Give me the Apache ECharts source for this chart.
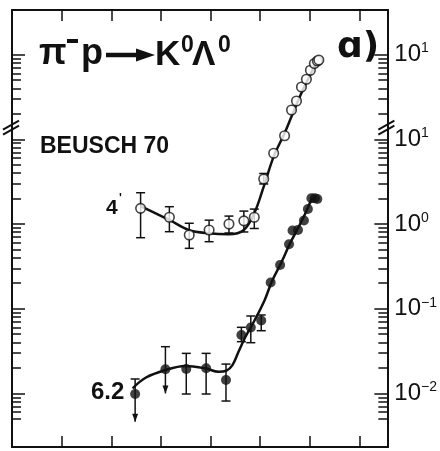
<!DOCTYPE html>
<html>
<head>
<meta charset="utf-8">
<script src="https://cdn.jsdelivr.net/npm/echarts@6/dist/echarts.min.js"></script>
<style>
  html, body { margin: 0; padding: 0; background: #fff; }
  #chart { width: 440px; height: 451px; }
</style>
</head>
<body>
<div id="chart"></div>
<script>
// 4 GeV (open circles), values read on the upper scale
const x4 = [2.59, 3.17, 3.57, 3.97, 4.37, 4.67, 4.88, 5.07, 5.27, 5.49, 5.63, 5.73, 5.83, 5.93, 6.01, 6.09, 6.15, 6.18];
const y4 = [0.153, 0.120, 0.0742, 0.085, 0.100, 0.109, 0.120, 0.340, 0.684, 1.10, 2.22, 2.83, 4.14, 5.11, 6.53, 7.85, 8.40, 8.63];
const err4Lo = [0.0689, 0.0811, 0.0516, 0.0618, 0.0783, 0.0805, 0.0885, 0.297];
const err4Hi = [0.234, 0.160, 0.102, 0.111, 0.124, 0.142, 0.150, 0.395];
const fitX4 = [2.59, 3.17, 3.56, 3.96, 4.37, 4.67, 4.88, 5.07, 5.27, 5.49, 5.63, 5.83, 6.03, 6.16];
const fitY4 = [0.163, 0.1115, 0.085, 0.0776, 0.0755, 0.085, 0.134, 0.276, 0.624, 1.18, 1.86, 3.52, 6.15, 8.4];

// 6.2 GeV (filled circles)
const x62 = [2.48, 3.09, 3.51, 3.91, 4.31, 4.62, 4.81, 5.02, 5.21, 5.40, 5.58, 5.65, 5.76, 5.88, 5.96, 6.03, 6.10, 6.15];
const y62 = [0.00984, 0.0193, 0.0194, 0.0198, 0.0144, 0.0489, 0.060, 0.0726, 0.204, 0.328, 0.576, 0.838, 0.849, 1.10, 1.50, 2.01, 2.01, 1.97];
const err62Lo = [0.00463, 0.0100, 0.00984, 0.00984, 0.00813, 0.0408, 0.0397, 0.055];
const err62Hi = [0.0148, 0.0356, 0.0297, 0.0297, 0.0222, 0.0603, 0.082, 0.0843];
const arrow62 = [1, 1, 0, 0, 0, 0, 0, 0];
const fitX62 = [2.43, 2.69, 3.09, 3.49, 3.89, 4.16, 4.32, 4.44, 4.56, 4.70, 4.89, 5.09, 5.23, 5.43, 5.59, 5.76, 5.91, 6.04];
const fitY62 = [0.0115, 0.0153, 0.0189, 0.0211, 0.0198, 0.0180, 0.0186, 0.0216, 0.0308, 0.0463, 0.0736, 0.127, 0.207, 0.356, 0.575, 0.890, 1.34, 2.01];

// axes
const xTicks = [1, 2, 3, 4, 5, 6, 7];
const powerTicks = [0.01, 0.1, 1, 10, 100];
const mantissas = [2, 3, 4, 5, 6, 7, 8, 9];
const decades = [-3, -2, -1, 0, 1];
const SHIFT_4 = 10;     // 4 GeV curve drawn one decade up
const BREAK_AT = 14.5;  // where the scale switches to the upper labels

const minorTicks = [];
decades.forEach(e => mantissas.forEach(m => {
    const v = +(m + 'e' + e);
    if (v >= 0.005 && v <= 100) minorTicks.push(v);
}));

const ink = '#111';
const sans = 'Liberation Sans, Arial, sans-serif';

const pairs = (xs, ys, k) => xs.map((x, i) => [x, ys[i] * k]);
const errRows = (xs, lo, hi, k, arrows) =>
    lo.map((l, i) => [xs[i], l * k, hi[i] * k, arrows ? arrows[i] : 0]);

function renderErr(params, api) {
    const x = api.value(0);
    const lo = api.coord([x, api.value(1)]);
    const hi = api.coord([x, api.value(2)]);
    const w = 4.5;
    const st = { stroke: ink, lineWidth: 1.5 };
    const kids = [
        { type: 'line', shape: { x1: hi[0], y1: hi[1], x2: lo[0], y2: lo[1] }, style: st },
        { type: 'line', shape: { x1: hi[0] - w, y1: hi[1], x2: hi[0] + w, y2: hi[1] }, style: st }
    ];
    if (api.value(3)) {
        kids.push({ type: 'polygon', shape: { points: [[lo[0] - 3, lo[1] - 8], [lo[0] + 3, lo[1] - 8], [lo[0], lo[1]]] }, style: { fill: ink } });
    } else {
        kids.push({ type: 'line', shape: { x1: lo[0] - w, y1: lo[1], x2: lo[0] + w, y2: lo[1] }, style: st });
    }
    return { type: 'group', children: kids };
}

// the "//" marks on both sides of the frame
function renderBreak(params, api) {
    const y = api.coord([0, api.value(1)])[1];
    const cs = params.coordSys;
    const st = { stroke: ink, lineWidth: 2 };
    const kids = [];
    [cs.x, cs.x + cs.width].forEach(x0 => {
        kids.push({ type: 'line', shape: { x1: x0 - 9, y1: y + 4, x2: x0 + 7, y2: y - 5 }, style: st });
        kids.push({ type: 'line', shape: { x1: x0 - 9, y1: y + 9, x2: x0 + 7, y2: y }, style: st });
    });
    return { type: 'group', children: kids };
}

function xAx(pos) {
    return {
        type: 'value', position: pos, min: 0, max: 7.56,
        axisLine: { show: true, lineStyle: { color: ink, width: 2 } },
        axisTick: { show: true, inside: true, length: 11, customValues: xTicks, lineStyle: { color: ink, width: 1.5 } },
        axisLabel: { show: false },
        splitLine: { show: false }
    };
}

function yAx(pos, values, len, labels) {
    return {
        type: 'log', logBase: 10, position: pos, min: 0.00233, max: 336,
        axisLine: { show: true, lineStyle: { color: ink, width: 2 } },
        axisTick: { show: true, inside: true, length: len, customValues: values, lineStyle: { color: ink, width: 1.5 } },
        axisLabel: labels ? {
            show: true, margin: 7, customValues: powerTicks,
            formatter: v => {
                let e = Math.round(Math.log10(v));
                if (v > BREAK_AT) e -= Math.round(Math.log10(SHIFT_4));
                return '{b|10}{s|' + (e < 0 ? '−' + (-e) : e) + '}';
            },
            rich: {
                b: { fontSize: 24, fontFamily: sans, color: ink, lineHeight: 26 },
                s: { fontSize: 14, fontFamily: sans, color: ink, lineHeight: 14, verticalAlign: 'top' }
            }
        } : { show: false },
        splitLine: { show: false }
    };
}

function txt(id, text, x, y, size, family, weight) {
    return {
        type: 'text', id: id, x: x, y: y, z: 10,
        style: { text: text, fontSize: size, fontFamily: family || sans, fontWeight: weight || 'bold', fill: ink, align: 'left', verticalAlign: 'middle' }
    };
}

const option = {
    animation: false,
    backgroundColor: '#fff',
    grid: { left: 12, right: 50, top: 10, bottom: 4 },
    xAxis: [xAx('bottom'), xAx('top')],
    yAxis: [
        yAx('left', minorTicks, 9, false),
        yAx('left', powerTicks, 13, false),
        yAx('right', minorTicks, 9, false),
        yAx('right', powerTicks, 13, true)
    ],
    graphic: [
        txt('pi', 'π', 39, 54, 36),
        { type: 'rect', id: 'piMinus', shape: { x: 67, y: 39, width: 11, height: 4 }, style: { fill: ink } },
        txt('p', 'p', 81, 54, 36),
        { type: 'line', id: 'arrowLine', shape: { x1: 106, y1: 55, x2: 140, y2: 55 }, style: { stroke: ink, lineWidth: 4.5 } },
        { type: 'polygon', id: 'arrowHead', shape: { points: [[136, 48.5], [155, 55], [136, 61.5]] }, style: { fill: ink } },
        txt('K', 'K', 155, 55, 35),
        txt('K0', '0', 181, 46, 23),
        txt('L', 'Λ', 192, 55, 35),
        txt('L0', '0', 218, 46, 23),
        txt('panel', 'ɑ)', 337, 48, 36, 'DejaVu Sans'),
        txt('ref', 'BEUSCH 70', 40, 147, 23),
        txt('e4', '4', 106, 208, 21),
        txt('e4p', "'", 119, 199, 12),
        txt('e62', '6.2', 91, 392, 24)
    ],
    series: [
        {
            name: 'fit 4', type: 'line', smooth: 0.35, symbol: 'none', z: 2,
            lineStyle: { color: ink, width: 2.5 },
            data: pairs(fitX4, fitY4, SHIFT_4)
        },
        {
            name: 'fit 6.2', type: 'line', smooth: 0.35, symbol: 'none', z: 2,
            lineStyle: { color: ink, width: 2.5 },
            data: pairs(fitX62, fitY62, 1)
        },
        {
            name: 'err 4', type: 'custom', renderItem: renderErr, z: 3,
            encode: { x: 0, y: [1, 2] },
            data: errRows(x4, err4Lo, err4Hi, SHIFT_4)
        },
        {
            name: 'err 6.2', type: 'custom', renderItem: renderErr, z: 3,
            encode: { x: 0, y: [1, 2] },
            data: errRows(x62, err62Lo, err62Hi, 1, arrow62)
        },
        {
            name: '4', type: 'scatter', symbol: 'circle', symbolSize: 9.5, z: 4,
            itemStyle: { color: '#fff', borderColor: ink, borderWidth: 1.6 },
            data: pairs(x4, y4, SHIFT_4)
        },
        {
            name: '6.2', type: 'scatter', symbol: 'circle', symbolSize: 10, z: 4,
            itemStyle: { color: ink },
            data: pairs(x62, y62, 1)
        },
        {
            name: 'break', type: 'custom', renderItem: renderBreak, z: 5, silent: true,
            encode: { x: 0, y: 1 },
            data: [[0, BREAK_AT]]
        }
    ]
};

const chart = echarts.init(document.getElementById('chart'));
chart.setOption(option);
</script>
</body>
</html>
